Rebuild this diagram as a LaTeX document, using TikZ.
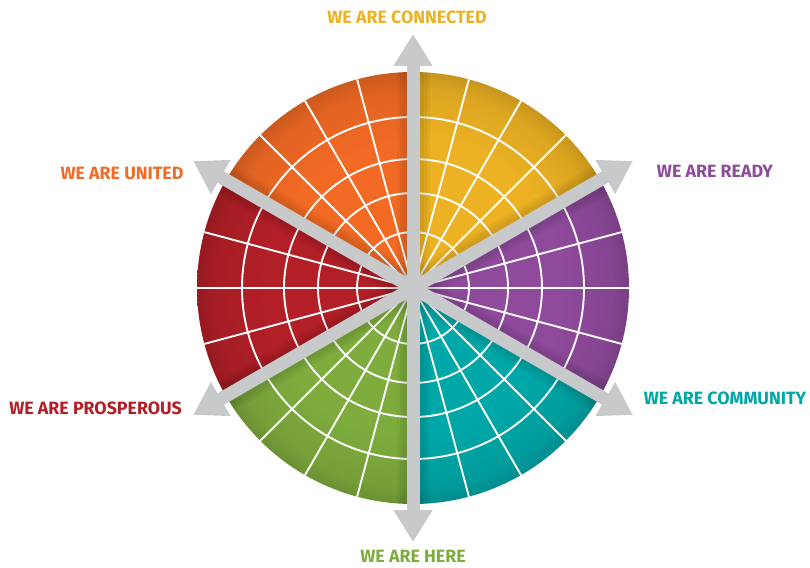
\documentclass[tikz,border=0pt]{standalone}
\usepackage{fontspec}
\setmainfont{Fira Sans}
\usetikzlibrary{arrows.meta}

\newlength{\du}
\setlength{\du}{1pt}

\definecolor{wheelyellow}{RGB}{237,178,35}
\definecolor{wheelorange}{RGB}{242,106,36}
\definecolor{wheelred}{RGB}{178,31,39}
\definecolor{wheelgreen}{RGB}{126,172,61}
\definecolor{wheelteal}{RGB}{0,167,168}
\definecolor{wheelpurple}{RGB}{143,74,156}
\definecolor{axisgray}{RGB}{200,201,203}

% rim darkening, follows the current sector colour
\colorlet{secfill}{white}
\pgfdeclareradialshading[secfill]{rimshade}{\pgfpoint{0bp}{0bp}}{%
  color(0bp)=(secfill); color(17bp)=(secfill);
  color(23bp)=(secfill!93!black); color(25bp)=(secfill!84!black);
  color(50bp)=(secfill!84!black)}

\tikzset{
  gridline/.style={draw=white, line width=1.9\du},
  armshadow/.style={draw=black, opacity=0.04},
  axisarrow/.style={draw=axisgray, line width=13\du,
    {Triangle[width=37pt,length=32pt]}-{Triangle[width=37pt,length=32pt]}},
  wheellabel/.style={font=\fontsize{17.8}{19}\selectfont\bfseries, inner sep=0pt},
}

\begin{document}
\begin{tikzpicture}
\pgftransformyscale{-1.000000}
\useasboundingbox (0\du,0\du) rectangle (810\du,567\du);
\coordinate (hub) at (413\du,288\du);
\path (hub) ++(-90:254\du) coordinate (tipN)
      (hub) ++(90:254\du)  coordinate (tipS)
      (hub) ++(-30:254\du) coordinate (tipNE)
      (hub) ++(150:254\du) coordinate (tipSW)
      (hub) ++(30:254\du)  coordinate (tipSE)
      (hub) ++(210:254\du) coordinate (tipNW);

% the six coloured sectors
\foreach \from/\col in {-90/wheelyellow, -30/wheelpurple, 30/wheelteal,
                        90/wheelgreen, 150/wheelred, 210/wheelorange}{
  \colorlet{secfill}{\col}
  \begin{scope}
    \clip (hub) -- ++(\from:216\du) arc[start angle=\from, delta angle=60, radius=216\du] -- cycle;
    \shade[shading=rimshade] (hub) circle[radius=216\du];
  \end{scope}
}

% rings and spokes
\foreach \r in {56,95,129,171}
  \draw[gridline] (hub) circle[radius=\r\du];
\foreach \a in {0,15,...,345}
  \draw[gridline] (hub) -- ++(\a:216\du);

% soft shadow along the arms
\begin{scope}
  \clip (hub) circle[radius=216\du];
  \foreach \w in {33,27,21}{
    \draw[armshadow, line width=\w\du] (tipS) -- (tipN);
    \draw[armshadow, line width=\w\du] (tipSW) -- (tipNE);
    \draw[armshadow, line width=\w\du] (tipNW) -- (tipSE);
  }
\end{scope}

% arms
\draw[axisarrow] (tipS) -- (tipN);
\draw[axisarrow] (tipSW) -- (tipNE);
\draw[axisarrow] (tipNW) -- (tipSE);

% labels
\node[wheellabel, text=wheelyellow] (connected) at (407\du,17.5\du) {WE ARE CONNECTED};
\node[wheellabel, text=wheelpurple] (ready) at (715\du,171\du) {WE ARE READY};
\node[wheellabel, text=wheelteal] (community) at (725\du,398\du) {WE ARE COMMUNITY};
\node[wheellabel, text=wheelgreen] (here) at (413\du,556\du) {WE ARE HERE};
\node[wheellabel, text=wheelred] (prosperous) at (95.5\du,408\du) {WE ARE PROSPEROUS};
\node[wheellabel, text=wheelorange] (united) at (122\du,173\du) {WE ARE UNITED};
\end{tikzpicture}
\end{document}
